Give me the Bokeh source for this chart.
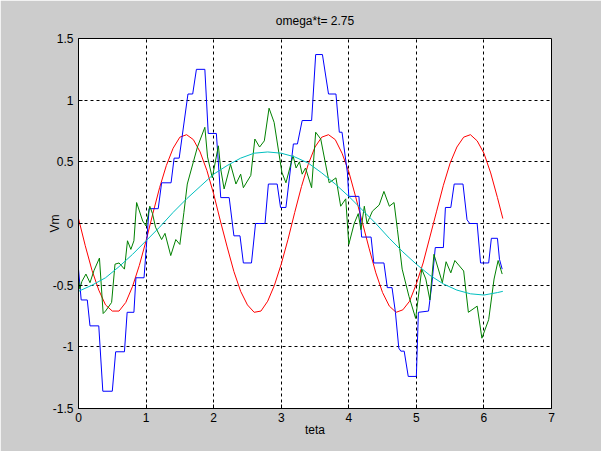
from bokeh.plotting import figure
from bokeh.models import FixedTicker, Range1d
from bokeh.embed import file_html
from bokeh.resources import INLINE

title_text = "omega*t= 2.75"
x_label = "teta"
y_label = "Vm"
x_ticks = [0, 1, 2, 3, 4, 5, 6, 7]
x_tick_labels = ["0", "1", "2", "3", "4", "5", "6", "7"]
y_ticks = [-1.5, -1, -0.5, 0, 0.5, 1, 1.5]
y_tick_labels = ["-1.5", "-1", "-0.5", "0", "0.5", "1", "1.5"]

# red curve
red_x = [0.0, 0.1, 0.2, 0.3, 0.4, 0.5, 0.6, 0.7, 0.8, 0.9, 1.0, 1.1, 1.2, 1.3, 1.4, 1.5,
         1.6, 1.7, 1.8, 1.9, 2.0, 2.1, 2.2, 2.3, 2.4, 2.5, 2.6, 2.7, 2.8, 2.9, 3.0, 3.1,
         3.2, 3.3, 3.4, 3.5, 3.6, 3.7, 3.8, 3.9, 4.0, 4.1, 4.2, 4.3, 4.4, 4.5, 4.6, 4.7,
         4.8, 4.9, 5.0, 5.1, 5.2, 5.3, 5.4, 5.5, 5.6, 5.7, 5.8, 5.9, 6.0, 6.1, 6.2, 6.28]
red_y = [0.04, -0.18, -0.38, -0.54, -0.66, -0.71, -0.71, -0.64, -0.51, -0.34, -0.14, 0.08,
         0.29, 0.47, 0.61, 0.70, 0.72, 0.68, 0.58, 0.43, 0.24, 0.02, -0.19, -0.39, -0.55,
         -0.66, -0.72, -0.71, -0.63, -0.50, -0.33, -0.13, 0.09, 0.30, 0.48, 0.62, 0.70, 0.72,
         0.68, 0.57, 0.42, 0.22, 0.01, -0.20, -0.40, -0.56, -0.67, -0.72, -0.70, -0.63, -0.49,
         -0.32, -0.11, 0.10, 0.31, 0.49, 0.62, 0.70, 0.72, 0.67, 0.57, 0.41, 0.21, 0.04]

# cyan curve
cyan_x = [0.0, 0.2, 0.4, 0.6, 0.8, 1.0, 1.2, 1.4, 1.6, 1.8, 2.0, 2.2, 2.4, 2.6, 2.8, 3.0,
          3.2, 3.4, 3.6, 3.8, 4.0, 4.2, 4.4, 4.6, 4.8, 5.0, 5.2, 5.4, 5.6, 5.8, 6.0, 6.2, 6.28]
cyan_y = [-0.55, -0.50, -0.44, -0.35, -0.25, -0.14, -0.03, 0.09, 0.20, 0.30, 0.40, 0.47,
          0.53, 0.57, 0.58, 0.57, 0.54, 0.49, 0.41, 0.32, 0.22, 0.11, 0.00, -0.12, -0.23,
          -0.33, -0.42, -0.49, -0.54, -0.57, -0.58, -0.56, -0.55]

# blue staircase
blue_x = [0.00, 0.04, 0.13, 0.17, 0.30, 0.36, 0.50, 0.55, 0.68, 0.72, 0.82, 0.85, 0.97,
          1.045, 1.18, 1.23, 1.37, 1.415, 1.49, 1.62, 1.69, 1.745, 1.87, 1.92, 2.04, 2.105,
          2.23, 2.30, 2.39, 2.44, 2.56, 2.62, 2.76, 2.81, 2.94, 2.99, 3.07, 3.18, 3.24, 3.31,
          3.45, 3.51, 3.61, 3.70, 3.81, 3.86, 3.90, 3.98, 4.00, 4.15, 4.19, 4.33, 4.37, 4.52,
          4.57, 4.64, 4.69, 4.74, 4.77, 4.82, 4.88, 5.00, 5.03, 5.18, 5.23, 5.28, 5.40, 5.43,
          5.51, 5.56, 5.69, 5.75, 5.79, 5.90, 5.95, 6.07, 6.11, 6.20, 6.23, 6.27]
blue_y = [-0.37, -0.62, -0.62, -0.83, -0.83, -1.36, -1.36, -1.04, -1.04, -0.72, -0.72, -0.44,
          -0.44, 0.12, 0.12, 0.33, 0.33, 0.53, 0.53, 1.05, 1.05, 1.25, 1.25, 0.73, 0.73, 0.21,
          0.21, -0.10, -0.10, -0.32, -0.32, 0.00, 0.00, 0.32, 0.32, 0.13, 0.13, 0.645, 0.645,
          0.835, 0.835, 1.37, 1.37, 1.05, 1.05, 0.74, 0.74, 0.41, 0.22, 0.22, -0.11, -0.11,
          -0.32, -0.32, -0.52, -0.52, -0.72, -1.01, -1.035, -1.035, -1.24, -1.24, -0.72, -0.71,
          -0.49, -0.195, -0.195, 0.13, 0.13, 0.32, 0.32, 0.03, 0.00, 0.00, -0.32, -0.32, -0.12,
          -0.12, -0.29, -0.37]

# green jagged curve
green_x = [0.00, 0.02, 0.05, 0.11, 0.17, 0.23, 0.31, 0.365, 0.40, 0.49, 0.54, 0.60, 0.68,
           0.725, 0.775, 0.82, 0.86, 0.95, 1.00, 1.055, 1.095, 1.14, 1.23, 1.28, 1.365, 1.44,
           1.50, 1.56, 1.61, 1.76, 1.87, 1.91, 1.98, 2.07, 2.105, 2.155, 2.25, 2.33, 2.40,
           2.44, 2.55, 2.61, 2.68, 2.75, 2.82, 2.895, 3.01, 3.07, 3.175, 3.22, 3.27, 3.31,
           3.36, 3.45, 3.51, 3.585, 3.71, 3.81, 3.88, 3.955, 4.00, 4.08, 4.14, 4.18, 4.23,
           4.27, 4.35, 4.45, 4.52, 4.60, 4.67, 4.72, 4.79, 4.89, 4.99, 5.08, 5.14, 5.20, 5.26,
           5.385, 5.44, 5.51, 5.57, 5.70, 5.77, 5.90, 5.97, 6.07, 6.15, 6.21, 6.27]
green_y = [-0.45, -0.53, -0.47, -0.41, -0.48, -0.38, -0.28, -0.73, -0.71, -0.64, -0.33, -0.32,
           -0.37, -0.14, -0.21, -0.14, 0.17, 0.02, -0.02, 0.14, 0.08, -0.03, -0.13, -0.08,
           -0.26, -0.13, -0.17, 0.09, 0.32, 0.62, 0.78, 0.54, 0.37, 0.63, 0.44, 0.28, 0.48,
           0.32, 0.40, 0.29, 0.39, 0.685, 0.62, 0.67, 0.935, 0.82, 0.415, 0.33, 0.55, 0.45,
           0.50, 0.40, 0.45, 0.29, 0.74, 0.685, 0.33, 0.37, 0.14, 0.20, -0.17, 0.00, 0.08,
           -0.05, 0.14, 0.00, 0.10, 0.15, 0.26, 0.14, 0.17, -0.05, -0.37, -0.59, -0.77, -0.37,
           -0.45, -0.62, -0.25, -0.48, -0.31, -0.40, -0.30, -0.385, -0.72, -0.67, -0.93, -0.78,
           -0.45, -0.30, -0.41]

FONT = "Liberation Sans"

p = figure(width=601, height=451, output_backend="svg", toolbar_location=None,
           x_range=Range1d(0, 7), y_range=Range1d(-1.5, 1.5),
           min_border_left=78, min_border_right=50, min_border_top=38, min_border_bottom=43,
           title=title_text)
p.background_fill_color = "white"
p.border_fill_color = "#cccccc"
p.outline_line_color = "black"
p.outline_line_width = 1

p.title.align = "center"
p.title.text_font = FONT
p.title.text_font_size = "12px"
p.title.text_font_style = "normal"
p.title.text_color = "black"
p.title.standoff = 22

for ax in (p.xaxis[0], p.yaxis[0]):
    ax.axis_line_color = "black"
    ax.major_tick_in = 4
    ax.major_tick_out = 0
    ax.minor_tick_in = 0
    ax.minor_tick_out = 0
    ax.major_tick_line_color = "black"
    ax.major_label_text_font = FONT
    ax.major_label_text_font_size = "12px"
    ax.major_label_text_color = "black"
    ax.axis_label_text_font = FONT
    ax.axis_label_text_font_size = "12px"
    ax.axis_label_text_font_style = "normal"
    ax.axis_label_text_color = "black"

p.xaxis[0].ticker = FixedTicker(ticks=x_ticks)
p.xaxis[0].major_label_overrides = {t: s for t, s in zip(x_ticks, x_tick_labels)}
p.yaxis[0].ticker = FixedTicker(ticks=y_ticks)
p.yaxis[0].major_label_overrides = {t: s for t, s in zip(y_ticks, y_tick_labels)}
p.xaxis[0].axis_label = x_label
p.yaxis[0].axis_label = y_label
p.xaxis[0].major_label_standoff = 4
p.yaxis[0].major_label_standoff = 5
p.xaxis[0].axis_label_standoff = -2
p.yaxis[0].axis_label_standoff = -12

for g in (p.xgrid[0], p.ygrid[0]):
    g.grid_line_color = "black"
    g.grid_line_dash = "3 3"
    g.grid_line_width = 1

p.line(red_x, red_y, line_color="#ff0000", line_width=1)
p.line(blue_x, blue_y, line_color="#0000ff", line_width=1)
p.line(green_x, green_y, line_color="#008000", line_width=1)
p.line(cyan_x, cyan_y, line_color="#00bfbf", line_width=1)

open("out.html", "w").write(file_html(p, INLINE))
